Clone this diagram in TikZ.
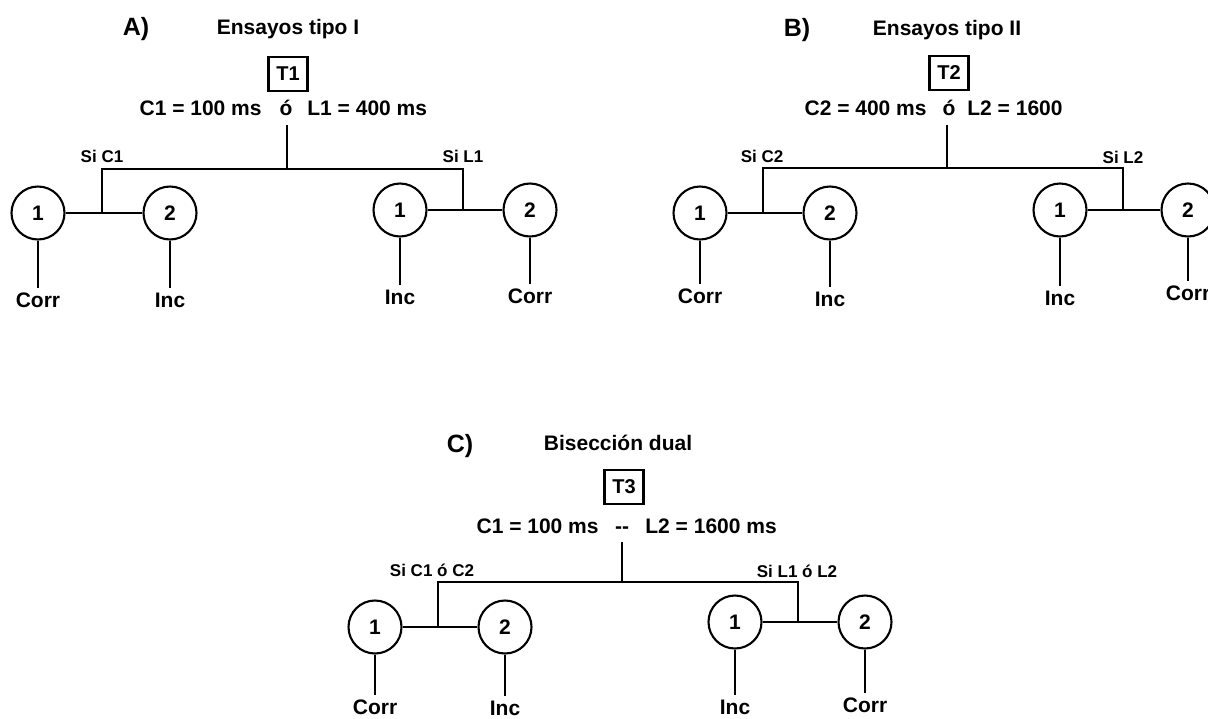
\documentclass[tikz,border=0pt]{standalone}
\usepackage{fontspec}
\setmainfont{Liberation Sans}
\newcommand{\fsz}[1]{\fontsize{#1}{#1}\selectfont\bfseries}
\tikzset{
  circ/.style={circle, draw, line width=1.05pt, minimum size=26.5pt, inner sep=0pt, font=\fsz{10.5}},
  tbox/.style={draw, line width=1.05pt, minimum width=19.5pt, minimum height=17pt, inner sep=0pt, font=\fsz{10}},
  txt/.style={inner sep=0pt, anchor=base, font=\fsz{10.5}},
  panel/.style={inner sep=0pt, anchor=base, font=\fsz{12.5}},
  silab/.style={inner sep=0pt, anchor=base, font=\fsz{8.5}},
  leaf/.style={inner sep=0pt, anchor=base, font=\fsz{10.5}},
  conn/.style={line width=1.3pt},
  toleaf/.style={line width=1.3pt, shorten >=2pt}
}
\begin{document}
\begin{tikzpicture}[x=0.5pt, y=-0.5pt]
\fill[white] (0,0) rectangle (1208,718);
\useasboundingbox (0,0) rectangle (1208,718);

% ---------------- Panel A ----------------
\node[panel] (pA) at (136,35) {A)};
\node[txt] (tiA) at (288,34) {Ensayos tipo I};
\node[tbox] (T1) at (288,74) {T1};
\node[txt, anchor=base east] (fA1) at (262,115) {C1 = 100 ms};
\node[txt] (oA) at (286,115) {ó};
\node[txt, anchor=base west] (fA2) at (307,115) {L1 = 400 ms};
\coordinate (sA) at (287,125);
\coordinate (tA) at (287,169);
\coordinate (lA) at (102,169);
\coordinate (rA) at (463,169);
\coordinate (jlA) at (102,213);
\coordinate (jrA) at (463,210);
\draw[conn] (sA) -- (tA);
\draw[conn] (jlA) -- (lA) -- (rA) -- (jrA);
\node[circ] (cA1) at (38,213) {1};
\node[circ] (cA2) at (170,213) {2};
\node[circ] (cA3) at (400,210) {1};
\node[circ] (cA4) at (530,210) {2};
\draw[conn] (cA1) -- (cA2);
\draw[conn] (cA3) -- (cA4);
\node[silab] (sAl) at (102,162) {Si C1};
\node[silab] (sAr) at (463,162) {Si L1};
\node[leaf] (oA1) at (38,307) {Corr};
\node[leaf] (oA2) at (170,307) {Inc};
\node[leaf] (oA3) at (400,304) {Inc};
\node[leaf] (oA4) at (530,303) {Corr};
\draw[toleaf] (cA1) -- (oA1);
\draw[toleaf] (cA2) -- (oA2);
\draw[toleaf] (cA3) -- (oA3);
\draw[toleaf] (cA4) -- (oA4);

% ---------------- Panel B ----------------
\node[panel] (pB) at (797,36) {B)};
\node[txt] (tiB) at (947,35) {Ensayos tipo II};
\node[tbox] (T2) at (949,73) {T2};
\node[txt, anchor=base east] (fB1) at (927,115) {C2 = 400 ms};
\node[txt] (oB) at (949,115) {ó};
\node[txt, anchor=base west] (fB2) at (967,115) {L2 = 1600};
\coordinate (sB) at (947,125);
\coordinate (tB) at (947,168);
\coordinate (lB) at (763,168);
\coordinate (rB) at (1123,168);
\coordinate (jlB) at (763,213);
\coordinate (jrB) at (1123,210);
\draw[conn] (sB) -- (tB);
\draw[conn] (jlB) -- (lB) -- (rB) -- (jrB);
\node[circ] (cB1) at (700,213) {1};
\node[circ] (cB2) at (830,213) {2};
\node[circ] (cB3) at (1060,210) {1};
\node[circ] (cB4) at (1188,210) {2};
\draw[conn] (cB1) -- (cB2);
\draw[conn] (cB3) -- (cB4);
\node[silab] (sBl) at (762,162) {Si C2};
\node[silab] (sBr) at (1123,163) {Si L2};
\node[leaf] (oB1) at (700,303) {Corr};
\node[leaf] (oB2) at (830,306) {Inc};
\node[leaf] (oB3) at (1060,305) {Inc};
\node[leaf] (oB4) at (1188,300) {Corr};
\draw[toleaf] (cB1) -- (oB1);
\draw[toleaf] (cB2) -- (oB2);
\draw[toleaf] (cB3) -- (oB3);
\draw[toleaf] (cB4) -- (oB4);

% ---------------- Panel C ----------------
\node[panel] (pC) at (460,452) {C)};
\node[txt] (tiC) at (618,450) {Bisección dual};
\node[tbox] (T3) at (624,487) {T3};
\node[txt, anchor=base east] (fC1) at (599,533) {C1 = 100 ms};
\node[txt] (dC) at (622,533) {-\kern0pt-};
\node[txt, anchor=base west] (fC2) at (645,533) {L2 = 1600 ms};
\coordinate (sC) at (622,542);
\coordinate (tC) at (622,582);
\coordinate (lC) at (438,582);
\coordinate (rC) at (798,582);
\coordinate (jlC) at (438,627);
\coordinate (jrC) at (798,623);
\draw[conn] (sC) -- (tC);
\draw[conn] (jlC) -- (lC) -- (rC) -- (jrC);
\node[circ] (cC1) at (375,627) {1};
\node[circ] (cC2) at (505,627) {2};
\node[circ] (cC3) at (735,622) {1};
\node[circ] (cC4) at (865,622) {2};
\draw[conn] (cC1) -- (cC2);
\draw[conn] (cC3) -- (cC4);
\node[silab] (sCl) at (432,576) {Si C1 ó C2};
\node[silab] (sCr) at (797,577) {Si L1 ó L2};
\node[leaf] (oC1) at (375,714) {Corr};
\node[leaf] (oC2) at (505,715) {Inc};
\node[leaf] (oC3) at (735,714) {Inc};
\node[leaf] (oC4) at (865,712) {Corr};
\draw[toleaf] (cC1) -- (oC1);
\draw[toleaf] (cC2) -- (oC2);
\draw[toleaf] (cC3) -- (oC3);
\draw[toleaf] (cC4) -- (oC4);
\end{tikzpicture}
\end{document}
